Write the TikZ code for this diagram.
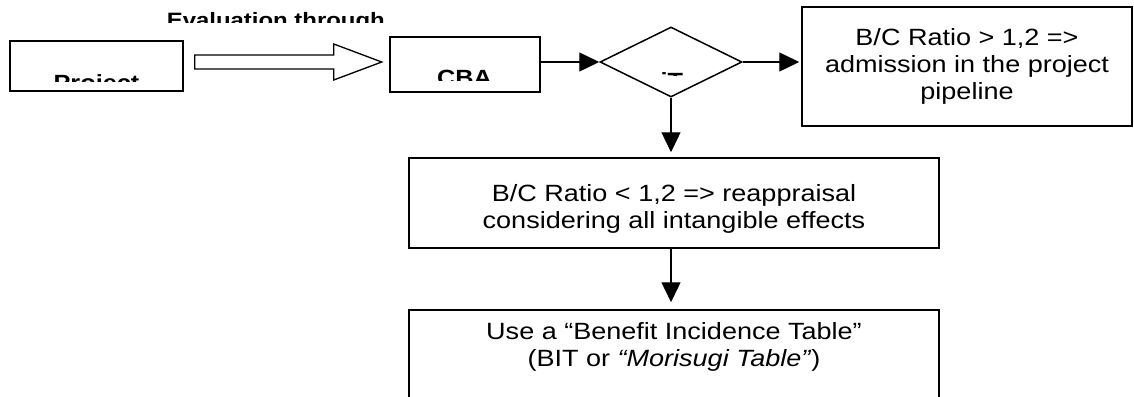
\documentclass[tikz,border=0pt]{standalone}
\usepackage{fontspec}
\setmainfont{Liberation Sans}[FakeStretch=1.15]
\usetikzlibrary{arrows.meta,shapes.geometric}
\begin{document}
\begin{tikzpicture}[x=1pt,y=-1pt,
  box/.style={draw, line width=1.5pt, inner sep=0pt},
  conn/.style={line width=1.4pt, -{Triangle[length=20pt,width=19pt]}},
  txt/.style={inner sep=0pt, font=\fontsize{23.5}{27}\selectfont, align=center},
  btxt/.style={inner sep=0pt, font=\fontsize{22}{26}\selectfont\bfseries, anchor=base},
]
\useasboundingbox (0,0) rectangle (1134,396);
% boxes
\node[box, minimum width=173pt, minimum height=50pt] (proj) at (96.5,66) {};
\node[box, minimum width=150pt, minimum height=55pt] (cba) at (465,64.5) {};
\node[box, diamond, minimum width=142pt, minimum height=70pt] (dec) at (671,62) {};
\node[box, minimum width=330pt, minimum height=119pt] (rb) at (967,66.5) {};
\node[box, minimum width=530pt, minimum height=90pt] (b2) at (674,203) {};
\node[box, minimum width=530pt, minimum height=110pt] (b3) at (674,365) {};
% texts
\node[txt] (rbt) at (967,66) {B/C Ratio > 1,2 =>\\admission in the project\\pipeline};
\node[txt] (b2t) at (674,208.5) {B/C Ratio < 1,2 => reappraisal\\considering all intangible effects};
\node[txt] (b3t) at (674,346.5) {Use a “Benefit Incidence Table”\\(BIT or \textit{“Morisugi Table”})};
% clipped bold texts
\begin{scope}
\clip (150,0) rectangle (400,22.7);
\node[btxt, font=\fontsize{20.8}{24}\selectfont\bfseries] (evt) at (275.8,27.9) {Evaluation through};
\end{scope}
\begin{scope}
\clip (11,42) rectangle (182,81.7);
\node[btxt] (projt) at (96.5,90.75) {Project};
\end{scope}
\begin{scope}
\clip (391,38) rectangle (539,80);
\node[btxt] (cbat) at (464.5,85.75) {CBA};
\end{scope}
\begin{scope}
\clip (640,40) rectangle (700,75.3);
\node[btxt, anchor=base west] (dect) at (660.5,88.75) {iT};
\end{scope}
% block arrow
\coordinate (ba) at ([xshift=11pt,yshift=3pt]proj.east);
\draw[line width=1.3pt] (ba) ++(0,-8) -- ++(139,0) -- ++(0,-11) -- ++(48,18)
  -- ++(-48,18) -- ++(0,-11) -- ++(-139,0) -- cycle;
% connectors
\draw[conn] (cba.east |- dec.west) -- (dec.west);
\draw[conn, shorten >=2pt] (dec.east) -- (dec.east -| rb.west);
\draw[conn, shorten >=5pt] (dec.south) -- (dec.south |- b2.north);
\draw[conn, shorten >=7pt] (dec.south |- b2.south) -- (dec.south |- b3.north);
\end{tikzpicture}
\end{document}
